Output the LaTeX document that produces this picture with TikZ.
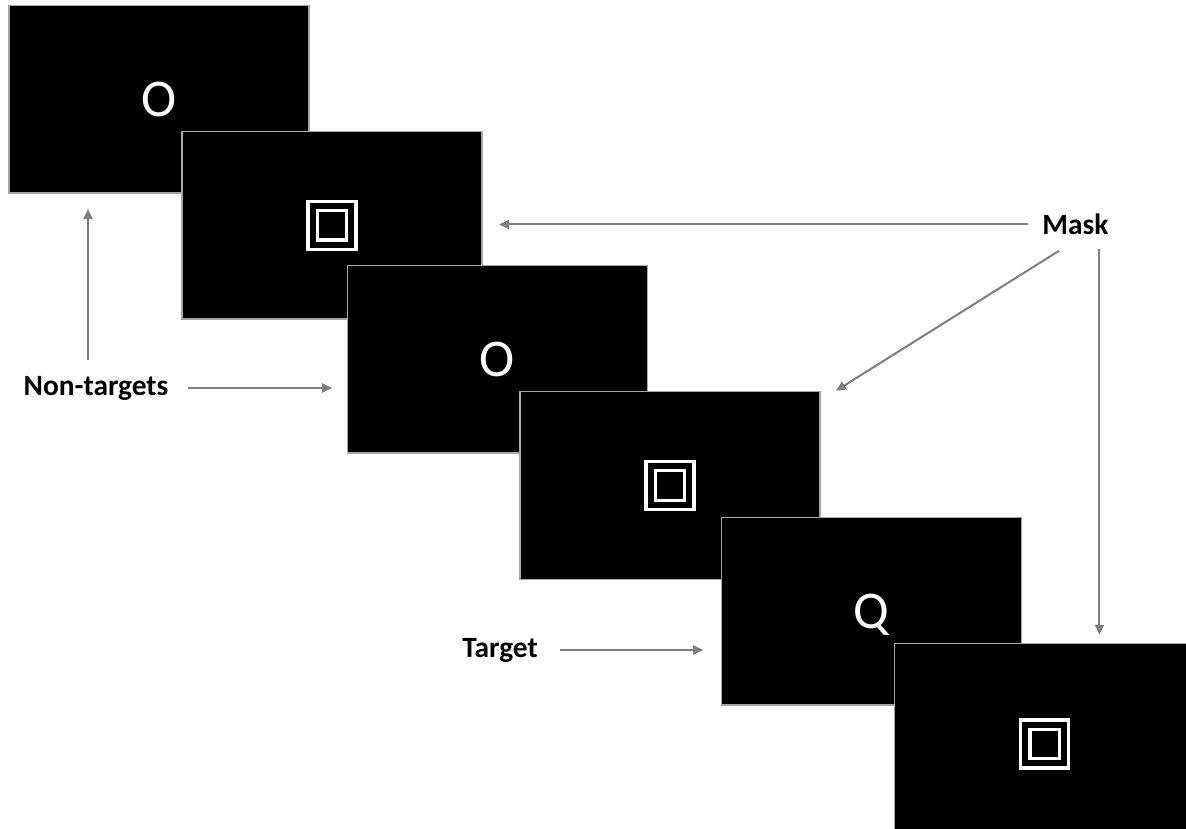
\documentclass[tikz,border=0pt]{standalone}
\usepackage{fontspec}
\setmainfont{Carlito}
\usetikzlibrary{arrows.meta,calc}
\definecolor{arrowgray}{HTML}{7F7F7F}
\definecolor{framegray}{HTML}{A6A6A6}
\tikzset{
  screen/.style={draw=framegray,line width=1.2pt,fill=black,minimum width=300pt,minimum height=187.5pt,
    inner sep=0pt,outer sep=0pt,text=white,font=\fontsize{53}{53}\selectfont,text depth=0pt},
  lbl/.style={font=\bfseries\fontsize{29.4}{31}\selectfont,inner sep=0pt,text=black},
  arr/.style={draw=arrowgray,line width=2pt,-{Triangle[length=10pt,width=9pt]}},
  maskicon/.style={draw=white,line width=3.3pt},
  maskpic/.pic={
    \draw[maskicon] (-24,-24) rectangle (24,24);
    \draw[maskicon] (-14.8,-14.8) rectangle (14.8,14.8);
  }
}
\begin{document}
\begin{tikzpicture}[x=1pt,y=-1pt]
\useasboundingbox (0,0) rectangle (1186,829);
\node[screen] (s1) at (159,99.3) {O};
\node[screen] (s2) at (332,225.3) {};
\pic at (s2.center) {maskpic};
\node[screen] (s3) at (497.2,359.2) {O};
\node[screen] (s4) at (670,485.5) {};
\pic at (s4.center) {maskpic};
\node[screen] (s5) at (871.2,611.2) {Q};
\node[screen] (s6) at (1044.3,737.5) {};
\pic at ($(s6.center)+(0.5,6.5)$) {maskpic};

\node[lbl] (mask) at (1075.5,224.5) {Mask};
\node[lbl] (nt) at (96,388) {Non-targets};
\node[lbl] (tg) at (500,650) {Target};

\draw[arr,shorten <=14pt,shorten >=17pt] (mask.west) -- (s2.east |- mask.west);
\draw[arr] ($(mask.south)+(-16.5,15.7)$) -- ($(s4.north east)+(16,-1)$);
\draw[arr,shorten >=9pt] ($(mask.south east)+(-9.3,13.5)$) -- ($(s6.north -| mask.south east)+(-9.3,0)$);
\draw[arr,shorten >=16pt] ($(nt.north)+(-8,-16)$) -- ($(s1.south -| nt.north)+(-8,0)$);
\draw[arr,shorten <=19pt,shorten >=15pt] (nt.east) -- (s3.west |- nt.east);
\draw[arr,shorten <=22pt,shorten >=18pt] (tg.east) -- (s5.west |- tg.east);
\end{tikzpicture}
\end{document}
